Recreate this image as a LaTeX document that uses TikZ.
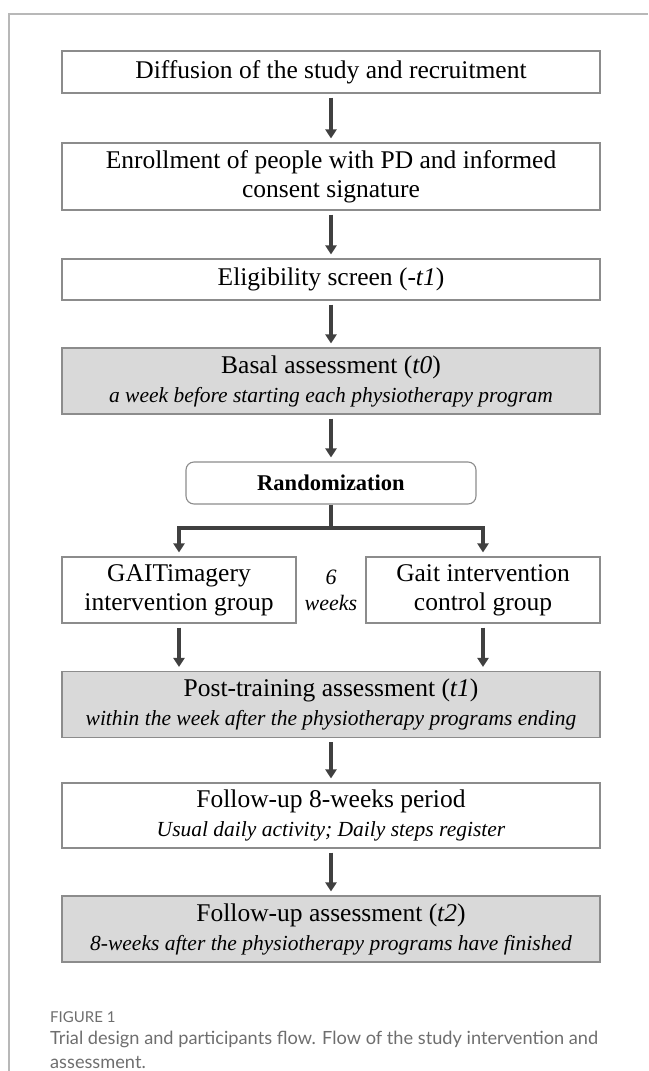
\documentclass[tikz,border=0pt]{standalone}
\usepackage{fontspec}
\setmainfont{Liberation Serif}
\newfontfamily\capfont{Lato}
\usepackage{xcolor}
\usepackage{tikz}
\usetikzlibrary{shapes,arrows,positioning,calc,arrows.meta}
\definecolor{boxline}{HTML}{8C8C8C}
\definecolor{boxgray}{HTML}{D9D9D9}
\definecolor{arrowgray}{HTML}{404040}
\definecolor{framegray}{HTML}{B8B8B8}
\definecolor{capgray}{HTML}{6E6E6E}
\newcommand{\subline}[1]{{\fontsize{21.5}{25}\selectfont\itshape #1}}

\begin{document}
\begin{tikzpicture}[x=1pt,y=-1pt,
    stage/.style={draw=boxline, line width=1.1pt, fill=white, minimum width=538pt,
        align=center, inner sep=0pt, font=\fontsize{25.5}{29}\selectfont},
    assess/.style={stage, fill=boxgray, minimum height=66pt},
    group/.style={stage, minimum width=234pt, minimum height=66pt},
    flow/.style={draw=arrowgray, line width=3.2pt, -{Triangle[length=9pt,width=11pt]},
        shorten >=4pt, shorten <=4pt},
    link/.style={draw=arrowgray, line width=3.2pt}]
    \useasboundingbox (0,0) rectangle (648,1071);

    % Frame of the figure
    \draw[framegray, line width=1.4pt] (9,1071) -- (9,14) -- (648,14);

    % Steps before randomization
    \node[stage, minimum height=42pt] (diffusion) at (331,72) {Diffusion of the study and recruitment};
    \node[stage, minimum height=67pt] (enrol) at (331,176.5) {Enrollment of people with PD and informed\\consent signature};
    \node[stage, minimum height=41pt] (elig) at (331,279.5) {Eligibility screen (-\textit{t1})};
    \node[assess] (basal) at (331,381) {Basal assessment (\textit{t0})\\\subline{a week before starting each physiotherapy program}};

    % Randomization
    \node[draw=boxline, line width=1.1pt, rounded corners=8pt, minimum width=290pt, minimum height=42pt,
        font=\fontsize{22.5}{26}\selectfont\bfseries] (rand) at (331,483) {Randomization};
    \coordinate (split) at (331,528);

    % Two groups
    \node[group] (gaitimg) at (179,590) {GAITimagery\\intervention group};
    \node[group] (gaitctl) at (483,590) {Gait intervention\\control group};
    \node[align=center, font=\fontsize{22}{26}\selectfont\itshape] (weeks) at (331,590) {6\\weeks};

    % Steps after training
    \node[assess] (post) at (331,704.5) {Post-training assessment (\textit{t1})\\\subline{within the week after the physiotherapy programs ending}};
    \node[stage, minimum height=65pt] (period) at (331,815.5) {Follow-up 8-weeks period\\\subline{Usual daily activity; Daily steps register}};
    \node[assess] (fupass) at (331,929) {Follow-up assessment (\textit{t2})\\\subline{8-weeks after the physiotherapy programs have finished}};

    % Arrows
    \draw[flow] (diffusion) -- (enrol);
    \draw[flow] (enrol) -- (elig);
    \draw[flow] (elig) -- (basal);
    \draw[flow] (basal) -- (rand);
    \draw[link] (rand.south) -- (split);
    \draw[flow, shorten <=0pt] (split) -| (gaitimg.north);
    \draw[flow, shorten <=0pt] (split) -| (gaitctl.north);
    \draw[flow] (gaitimg.south) -- (gaitimg.south |- post.north);
    \draw[flow] (gaitctl.south) -- (gaitctl.south |- post.north);
    \draw[flow] (post) -- (period);
    \draw[flow] (period) -- (fupass);

    % Caption
    \node[anchor=west, inner sep=0pt, text=capgray, font=\capfont\fontsize{15}{17}\selectfont] (figlabel) at (50,1017) {FIGURE 1};
    \node[anchor=north west, inner sep=0pt, align=left, text=capgray, font=\capfont\fontsize{18.2}{24}\selectfont] (figcap) at (50,1031) {Trial design and participants flow. Flow of the study intervention and\\assessment.};
\end{tikzpicture}
\end{document}
